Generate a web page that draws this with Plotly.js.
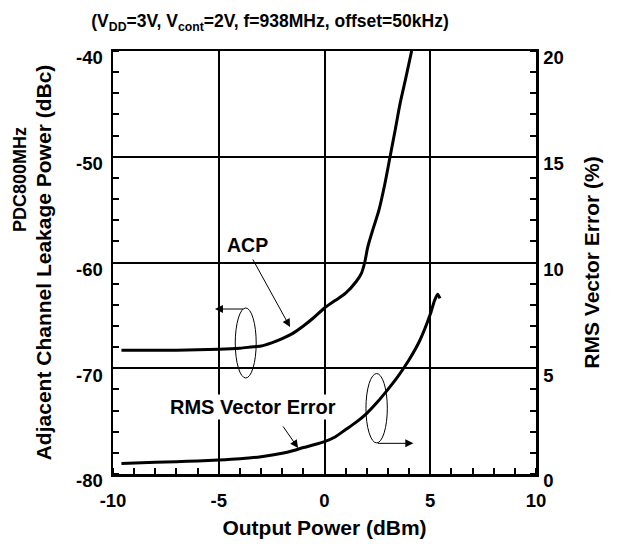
<!DOCTYPE html>
<html>
<head>
<meta charset="utf-8">
<script src="https://cdn.plot.ly/plotly-3.0.1.min.js"></script>
<style>html,body{margin:0;padding:0;background:#fff;}#chart{width:624px;height:547px;}</style>
</head>
<body>
<div id="chart"></div>
<script>
// ACP (left axis, dBc) vs output power (dBm)
var acpX = [-9.6, -8, -7, -6, -5, -4, -3.5, -3, -2.5, -2, -1.5, -1, -0.5, 0, 0.5, 1, 1.5, 1.75, 1.9, 2.05, 2.3, 2.58, 2.85, 3.1, 3.35, 3.57, 3.85, 4.12];
var acpY = [-68.3, -68.3, -68.3, -68.25, -68.2, -68.1, -68.0, -67.9, -67.6, -67.2, -66.7, -66.0, -65.2, -64.3, -63.6, -62.9, -61.8, -61.0, -60.0, -58.5, -56.8, -55.0, -52.6, -50.0, -47.4, -45.0, -42.5, -40.0];
// RMS vector error (right axis, %)
var rmsX = [-9.6, -8, -7, -6, -5, -4, -3, -2, -1.5, -1, -0.5, 0, 0.5, 1, 1.5, 2, 2.5, 3, 3.5, 4, 4.5, 5, 5.2, 5.35, 5.46];
var rmsY = [0.5, 0.55, 0.58, 0.62, 0.66, 0.72, 0.82, 0.98, 1.1, 1.25, 1.38, 1.53, 1.75, 2.1, 2.45, 2.87, 3.4, 4.0, 4.65, 5.4, 6.3, 7.55, 8.2, 8.5, 8.3];
var xTicks = [-10, -5, 0, 5, 10];
var yTicks = [-80, -70, -60, -50, -40];
var y2Ticks = [0, 5, 10, 15, 20];

var FONT = 'Liberation Sans, Arial, Helvetica, sans-serif';
var TICK = 18.5, AXT = 21;

var traces = [
  {x: acpX, y: acpY, mode: 'lines', line: {color: '#000', width: 3, shape: 'spline', smoothing: 0.7}, yaxis: 'y', name: 'ACP', hoverinfo: 'x+y'},
  {x: rmsX, y: rmsY, mode: 'lines', line: {color: '#000', width: 3, shape: 'spline', smoothing: 0.6}, yaxis: 'y2', name: 'RMS Vector Error', hoverinfo: 'x+y'}
];

var layout = {
  width: 624, height: 547,
  margin: {l: 113, r: 88, t: 51, b: 73},
  paper_bgcolor: '#fff', plot_bgcolor: '#fff',
  showlegend: false,
  font: {family: FONT, size: TICK, color: '#000', weight: 'bold'},
  title: {text: '(V<sub>DD</sub>=3V, V<sub>cont</sub>=2V, f=938MHz, offset=50kHz)', x: 270/624, xanchor: 'center', xref: 'container', y: 1 - 21/547, yanchor: 'middle', yref: 'container', font: {family: FONT, size: 17.5, weight: 'bold', color: '#000'}},
  xaxis: {
    range: [-10, 10], tickvals: xTicks, ticktext: xTicks.map(String),
    showgrid: true, gridcolor: '#000', gridwidth: 2,
    showline: true, linecolor: '#000', linewidth: 2.5, mirror: true,
    ticks: '', zeroline: false,
    minor: {dtick: 1, ticks: 'inside', ticklen: 6, tickwidth: 2, tickcolor: '#000', showgrid: false},
    tickfont: {family: FONT, size: TICK, weight: 'bold'},
    ticklabelstandoff: 8,
    title: {text: 'Output Power (dBm)', standoff: 11, font: {family: FONT, size: AXT, weight: 'bold'}}
  },
  yaxis: {
    range: [-80, -40], tickvals: yTicks, ticktext: yTicks.map(String),
    showgrid: true, gridcolor: '#000', gridwidth: 2,
    showline: true, linecolor: '#000', linewidth: 2.5, mirror: false,
    ticks: '', zeroline: false,
    minor: {dtick: 2, ticks: 'inside', ticklen: 6, tickwidth: 2, tickcolor: '#000', showgrid: false},
    tickfont: {family: FONT, size: TICK, weight: 'bold'},
    ticklabelshift: 7, ticklabelstandoff: 4,
    title: {text: 'Adjacent Channel Leakage Power (dBc)', standoff: 19, font: {family: FONT, size: AXT, weight: 'bold'}}
  },
  yaxis2: {
    range: [0, 20], tickvals: y2Ticks, ticktext: y2Ticks.map(String),
    overlaying: 'y', side: 'right',
    showgrid: false, zeroline: false,
    showline: true, linecolor: '#000', linewidth: 2.5,
    ticks: '',
    minor: {dtick: 1, ticks: 'inside', ticklen: 6, tickwidth: 2, tickcolor: '#000', showgrid: false},
    tickfont: {family: FONT, size: TICK, weight: 'bold'},
    ticklabelshift: 7, ticklabelstandoff: 1,
    title: {text: 'RMS Vector Error (%)', standoff: 22, font: {family: FONT, size: AXT, weight: 'bold'}}
  },
  shapes: [
    {type: 'circle', xref: 'x', yref: 'y', x0: -4.22, x1: -3.23, y0: -70.92, y1: -64.30, line: {color: '#000', width: 1}},
    {type: 'circle', xref: 'x', yref: 'y2', x0: 1.96, x1: 2.97, y0: 1.47, y1: 4.75, line: {color: '#000', width: 1}}
  ],
  annotations: [
    {text: 'PDC800MHz', xref: 'paper', yref: 'paper', x: (20 - 113) / 423, y: (474 - 180) / 423, xanchor: 'center', yanchor: 'middle', textangle: -90, showarrow: false, font: {family: FONT, size: 18, weight: 'bold'}},
    {text: 'ACP', xref: 'x', yref: 'y', x: -3.66, y: -58.35, showarrow: false, font: {family: FONT, size: 19.5, weight: 'bold'}},
    {text: '', xref: 'x', yref: 'y', x: -1.63, y: -66.1, ax: -38, ay: -69, showarrow: true, arrowhead: 2, arrowsize: 1.6, arrowwidth: 1, arrowcolor: '#000'},
    {text: '', xref: 'x', yref: 'y', x: -5.18, y: -64.4, ax: 30, ay: 0, showarrow: true, arrowhead: 2, arrowsize: 1.6, arrowwidth: 1, arrowcolor: '#000'},
    {text: 'RMS Vector Error', xref: 'x', yref: 'y', x: -3.38, y: -73.64, showarrow: false, bgcolor: '#fff', borderpad: 1, font: {family: FONT, size: 20, weight: 'bold'}},
    {text: '', xref: 'x', yref: 'y2', x: -1.25, y: 1.23, ax: -16, ay: -23, showarrow: true, arrowhead: 2, arrowsize: 1.6, arrowwidth: 1, arrowcolor: '#000'},
    {text: '', xref: 'x', yref: 'y2', x: 4.2, y: 1.45, ax: -37, ay: 0, showarrow: true, arrowhead: 2, arrowsize: 1.6, arrowwidth: 1, arrowcolor: '#000'}
  ]
};

Plotly.newPlot('chart', traces, layout, {displayModeBar: false, staticPlot: true});
</script>
</body>
</html>
